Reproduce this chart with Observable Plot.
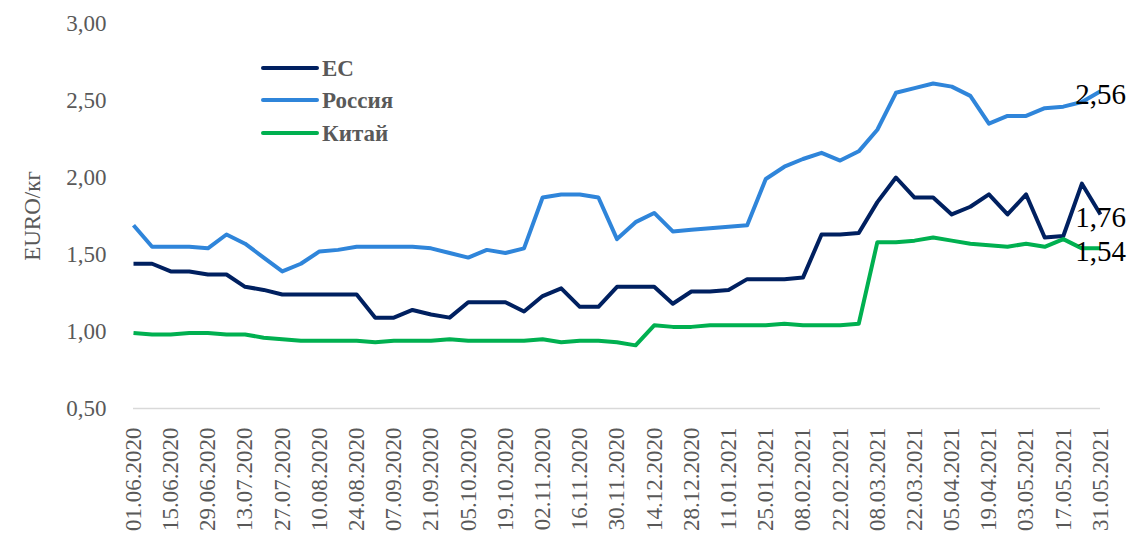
<!DOCTYPE html>
<html>
<head>
<meta charset="utf-8">
<script src="https://cdn.jsdelivr.net/npm/d3@7"></script>
<script src="https://cdn.jsdelivr.net/npm/@observablehq/plot@0.6"></script>
<style>
  body { margin: 0; background: #fff; }
  #chart svg { font-family: "Liberation Serif", serif; background: #fff; }
</style>
</head>
<body>
<div id="chart"></div>
<script>
// Weekly observation dates (categories)
const dates = [
  "01.06.2020","08.06.2020","15.06.2020","22.06.2020","29.06.2020","06.07.2020","13.07.2020","20.07.2020",
  "27.07.2020","03.08.2020","10.08.2020","17.08.2020","24.08.2020","31.08.2020","07.09.2020","14.09.2020",
  "21.09.2020","28.09.2020","05.10.2020","12.10.2020","19.10.2020","26.10.2020","02.11.2020","09.11.2020",
  "16.11.2020","23.11.2020","30.11.2020","07.12.2020","14.12.2020","21.12.2020","28.12.2020","04.01.2021",
  "11.01.2021","18.01.2021","25.01.2021","01.02.2021","08.02.2021","15.02.2021","22.02.2021","01.03.2021",
  "08.03.2021","15.03.2021","22.03.2021","29.03.2021","05.04.2021","12.04.2021","19.04.2021","26.04.2021",
  "03.05.2021","10.05.2021","17.05.2021","24.05.2021","31.05.2021"
];

// Tick labels shown on the x axis
const tickLabels = [
  "01.06.2020","15.06.2020","29.06.2020","13.07.2020","27.07.2020","10.08.2020","24.08.2020","07.09.2020",
  "21.09.2020","05.10.2020","19.10.2020","02.11.2020","16.11.2020","30.11.2020","14.12.2020","28.12.2020",
  "11.01.2021","25.01.2021","08.02.2021","22.02.2021","08.03.2021","22.03.2021","05.04.2021","19.04.2021",
  "03.05.2021","17.05.2021","31.05.2021"
];

const yTicks = [0.5, 1.0, 1.5, 2.0, 2.5, 3.0];

const seriesNames = ["ЕС", "Россия", "Китай"];
const seriesColors = ["#002060", "#2F85DA", "#00B050"];

const euValues = [
  1.44,1.44,1.39,1.39,1.37,1.37,1.29,1.27,1.24,1.24,1.24,1.24,1.24,1.09,1.09,1.14,
  1.11,1.09,1.19,1.19,1.19,1.13,1.23,1.28,1.16,1.16,1.29,1.29,1.29,1.18,1.26,1.26,
  1.27,1.34,1.34,1.34,1.35,1.63,1.63,1.64,1.84,2.00,1.87,1.87,1.76,1.81,1.89,1.76,
  1.89,1.61,1.62,1.96,1.76
];

const russiaValues = [
  1.69,1.55,1.55,1.55,1.54,1.63,1.57,1.48,1.39,1.44,1.52,1.53,1.55,1.55,1.55,1.55,
  1.54,1.51,1.48,1.53,1.51,1.54,1.87,1.89,1.89,1.87,1.60,1.71,1.77,1.65,1.66,1.67,
  1.68,1.69,1.99,2.07,2.12,2.16,2.11,2.17,2.31,2.55,2.58,2.61,2.59,2.53,2.35,2.40,
  2.40,2.45,2.46,2.49,2.56
];

const chinaValues = [
  0.99,0.98,0.98,0.99,0.99,0.98,0.98,0.96,0.95,0.94,0.94,0.94,0.94,0.93,0.94,0.94,
  0.94,0.95,0.94,0.94,0.94,0.94,0.95,0.93,0.94,0.94,0.93,0.91,1.04,1.03,1.03,1.04,
  1.04,1.04,1.04,1.05,1.04,1.04,1.04,1.05,1.58,1.58,1.59,1.61,1.59,1.57,1.56,1.55,
  1.57,1.55,1.60,1.54,1.54
];

const seriesValues = [euValues, russiaValues, chinaValues];
const data = [];
seriesNames.forEach((name, s) => {
  seriesValues[s].forEach((v, i) => data.push({series: name, date: dates[i], value: v}));
});
const lastPoints = seriesNames.map((name, s) => ({
  series: name, date: dates[dates.length - 1], value: seriesValues[s][seriesValues[s].length - 1]
}));

const fmt = d => d.toFixed(2).replace(".", ",");
const gray = "#595959";

const chart = Plot.plot({
  width: 1132,
  height: 535,
  marginLeft: 133,
  marginRight: 32,
  marginTop: 23,
  marginBottom: 127,
  style: {fontFamily: "Liberation Serif, serif", background: "#fff"},
  x: {type: "point", domain: dates, padding: 0},
  y: {domain: [0.5, 3.0]},
  color: {domain: seriesNames, range: seriesColors},
  marks: [
    Plot.ruleY([0.5], {stroke: "#d9d9d9", strokeWidth: 1.5}),
    Plot.axisY(yTicks, {
      tickSize: 0, tickPadding: 27, tickFormat: fmt, fontSize: 23, color: gray,
      label: "EURO/кг", labelAnchor: "center", labelArrow: "none", labelOffset: 110
    }),
    Plot.axisX(tickLabels, {
      tickSize: 0, tickPadding: 19, tickRotate: -90, fontSize: 23, color: gray, label: null
    }),
    Plot.line(data, {
      x: "date", y: "value", z: "series", stroke: "series",
      strokeWidth: 4, strokeLinejoin: "round", strokeLinecap: "butt"
    }),
    Plot.text(lastPoints, {
      x: "date", y: "value", text: d => fmt(d.value), dy: 3, fontSize: 29, fill: "#000"
    })
  ]
});

document.getElementById("chart").appendChild(chart);

// Legend inside the plot area
const svg = d3.select(chart);
const lg = svg.append("g").attr("class", "legend").attr("text-anchor", "start");
const legendY = [68, 100, 133];
seriesNames.forEach((name, i) => {
  lg.append("line")
    .attr("x1", 263).attr("x2", 317)
    .attr("y1", legendY[i]).attr("y2", legendY[i])
    .attr("stroke", seriesColors[i]).attr("stroke-width", 4).attr("stroke-linecap", "round");
  lg.append("text")
    .attr("x", 322).attr("y", legendY[i])
    .attr("dy", "0.35em")
    .attr("text-anchor", "start")
    .attr("fill", gray)
    .attr("font-weight", "bold")
    .attr("font-size", 23)
    .text(name);
});
</script>
</body>
</html>
